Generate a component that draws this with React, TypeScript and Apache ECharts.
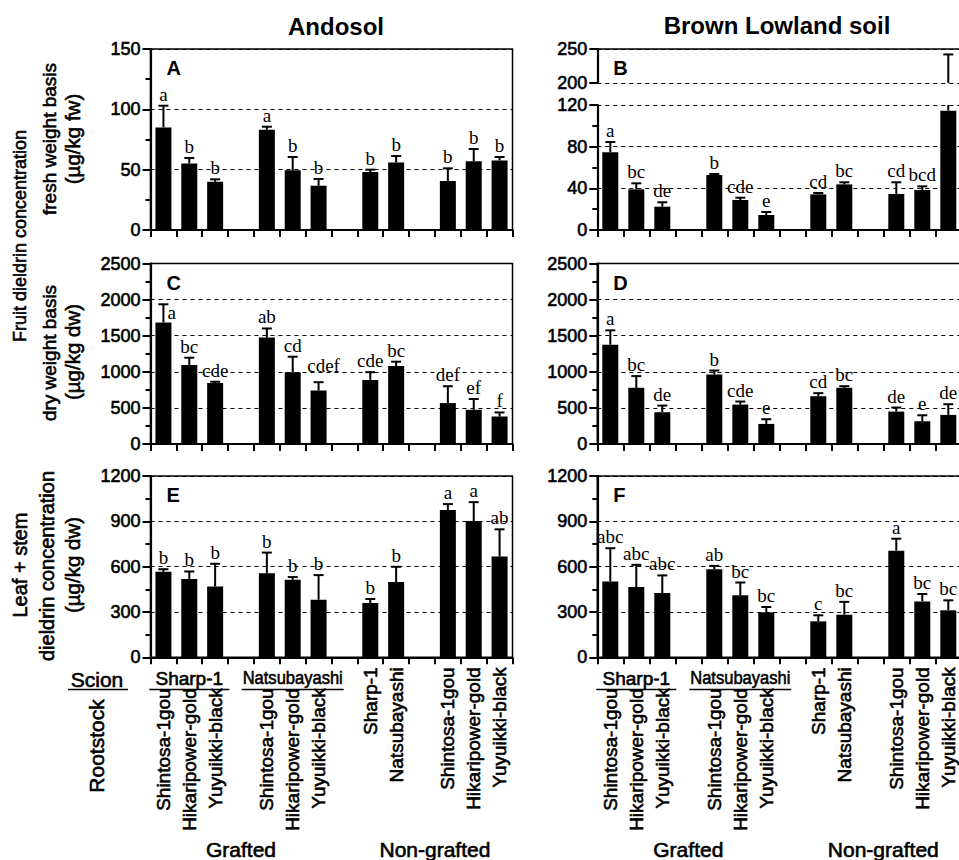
import React, { useEffect, useRef } from 'react';
import * as echarts from 'echarts';

// ---------- data ----------
const rootstocks = [
  'Shintosa-1gou', 'Hikaripower-gold', 'Yuyuikki-black', '',
  'Shintosa-1gou', 'Hikaripower-gold', 'Yuyuikki-black', '',
  'Sharp-1', 'Natsubayashi', '',
  'Shintosa-1gou', 'Hikaripower-gold', 'Yuyuikki-black',
];
const graftedFlags = [true, true, true, false, true, true, true, false, false, false, false, false, false, false];
const scionGroups = ['Sharp-1', 'Natsubayashi'];
const scionGroupStart = [0, 4];

const meanA = [85, 55.2, 40, null, 83, 49.5, 36.7, null, 48, 56, null, 40.6, 57, 57.7];
const topA = [103, 59.7, 42, null, 85.6, 60.5, 42.3, null, 50, 61.3, null, 51.1, 67.1, 60.5];
const letA = ['a', 'b', 'b', '', 'a', 'b', 'b', '', 'b', 'b', '', 'b', 'b', 'b'];

const meanB = [74.6, 39, 22.4, null, 52.8, 28.8, 14.4, null, 34.2, 43.8, null, 34.6, 38.4, 114.6];
const topB = [84.5, 44.8, 26.6, null, 53.8, 31, 17.3, null, 35.5, 45.8, null, 45.8, 41.9, 242];
const letB = ['a', 'bc', 'de', '', 'b', 'cde', 'e', '', 'cd', 'bc', '', 'cd', 'bcd', ''];

const meanC = [1684, 1093, 845, null, 1474, 995, 740, null, 888, 1079, null, 567, 474, 381];
const topC = [1935, 1195, 862, null, 1600, 1209, 856, null, 995, 1140, null, 800, 623, 437];
const letC = ['a', 'bc', 'cde', '', 'ab', 'cd', 'cdef', '', 'cde', 'bc', '', 'def', 'ef', 'f'];

const meanD = [1375, 778, 440, null, 963, 546, 278, null, 662, 778, null, 449, 315, 403];
const topD = [1574, 940, 532, null, 1018, 588, 343, null, 704, 801, null, 505, 398, 551];
const letD = ['a', 'bc', 'de', '', 'b', 'cde', 'e', '', 'cd', 'bc', '', 'de', 'e', 'de'];

const meanE = [566, 518, 469, null, 557, 513, 381, null, 359, 498, null, 975, 902, 667];
const topE = [583, 568, 619, null, 693, 531, 544, null, 386, 599, null, 1014, 1027, 847];
const letE = ['b', 'b', 'b', '', 'b', 'b', 'b', '', 'b', 'b', '', 'a', 'a', 'ab'];

const meanF = [502, 465, 425, null, 583, 410, 298, null, 238, 282, null, 706, 370, 311];
const topF = [722, 612, 542, null, 605, 495, 333, null, 278, 367, null, 785, 419, 377];
const letF = ['abc', 'abc', 'abc', '', 'ab', 'bc', 'bc', '', 'c', 'bc', '', 'a', 'bc', 'bc'];

const yTicksA = [0, 150, 50];
const yTicksBUpper = [200, 250, 50];
const yTicksBLower = [0, 120, 40];
const yTicksCD = [0, 2500, 500];
const yTicksEF = [0, 1200, 300];

// ---------- styling / layout ----------
const SANS = '"Liberation Sans", Arial, Helvetica, sans-serif';
const SERIF = '"Liberation Serif", "Times New Roman", serif';
const HEAVY = { textBorderColor: '#000', textBorderWidth: 0.6 };
const COLX = [150.5, 597.3];
const COLW = [362, 364];
const ROWS = [
  { top: 49, h: 181 },
  { top: 263.5, h: 180.5 },
  { top: 476, h: 181.3 },
];
const B_UPPER = { top: 49, h: 34 };
const B_LOWER = { top: 105, h: 125 };

const NUDGE: Record<string, { dx: number; dy: number; align?: string; va?: string }> = {
  C0: { dx: 4, dy: 1, align: 'left', va: 'top' },
  C6: { dx: 5, dy: -5 },
};

function catX(col: number, i: number) {
  return COLX[col] + (i + 0.5) * (COLW[col] / rootstocks.length);
}

function buildOption() {
  const grid: any[] = [];
  const xAxis: any[] = [];
  const yAxis: any[] = [];
  const series: any[] = [];

  const dashed = { color: '#000', width: 1, type: [4, 4] };

  function addGrid(col: number, top: number, h: number, opt: any) {
    const g = grid.length;
    grid.push({
      left: COLX[col], top, width: COLW[col], height: h,
      show: opt.border, borderColor: '#000', borderWidth: 1.5,
      backgroundColor: 'transparent', containLabel: false, outerBoundsMode: 'none',
    });
    const isTopAxis = !!opt.topAxis;
    xAxis.push({
      gridIndex: g, type: 'category', data: rootstocks, boundaryGap: true,
      position: isTopAxis ? 'top' : 'bottom',
      axisLine: { show: true, lineStyle: { color: '#000', width: isTopAxis ? 1.5 : 2.2 } },
      axisTick: { show: !isTopAxis, interval: 0, length: 7, lineStyle: { color: '#000', width: 2 } },
      axisLabel: opt.labels ? {
        show: true, interval: 0, rotate: 90, margin: 10, color: '#000',
        formatter: (v: string, i: number) => (v ? (graftedFlags[i] ? `{g|${v}}` : `{n|${v}}`) : ''),
        rich: {
          g: { fontSize: 19, fontFamily: SANS, color: '#000', padding: [0, 21, 0, 0], ...HEAVY },
          n: { fontSize: 19, fontFamily: SANS, color: '#000', ...HEAVY },
        },
      } : { show: false },
      splitLine: { show: false },
    });
    const [mn, mx, iv] = opt.ticks;
    yAxis.push({
      gridIndex: g, type: 'value', min: mn, max: mx, interval: iv,
      axisLine: { show: true, lineStyle: { color: '#000', width: 2.2 } },
      axisTick: { show: true, length: 8, lineStyle: { color: '#000', width: 2 } },
      minorTick: { show: opt.minor !== false, splitNumber: 2, length: 5, lineStyle: { color: '#000', width: 2 } },
      minorSplitLine: { show: false },
      axisLabel: {
        color: '#000', fontSize: 18, fontFamily: SANS, margin: 10, ...HEAVY,
        formatter: (v: number) => String(v),
      },
      splitLine: { show: true, lineStyle: dashed },
    });
    return g;
  }

  function addBars(g: number, mean: (number | null)[]) {
    series.push({
      type: 'bar', xAxisIndex: g, yAxisIndex: g, data: mean, barWidth: 16,
      itemStyle: { color: '#000' }, z: 2, silent: true,
    });
  }

  function addErr(g: number, key: string, mean: (number | null)[], top: (number | null)[],
    letters: string[], yMin: number, yMax: number) {
    const data: number[][] = [];
    mean.forEach((m, i) => {
      const t = top[i];
      if (m != null && t != null && t > yMin) data.push([i, m, t]);
    });
    series.push({
      type: 'custom', xAxisIndex: g, yAxisIndex: g, z: 3, silent: true, data,
      encode: { x: 0, y: [1, 2] },
      renderItem: (_p: any, api: any) => {
        const i = api.value(0), m = api.value(1), t = api.value(2);
        const lo = Math.max(m, yMin), hi = Math.min(t, yMax);
        const p0 = api.coord([i, lo]);
        const p1 = api.coord([i, hi]);
        const children: any[] = [
          { type: 'line', shape: { x1: p0[0], y1: p0[1], x2: p1[0], y2: p1[1] }, style: { stroke: '#000', lineWidth: 2 } },
        ];
        if (t <= yMax) {
          children.push({ type: 'line', shape: { x1: p1[0] - 5, y1: p1[1], x2: p1[0] + 5, y2: p1[1] }, style: { stroke: '#000', lineWidth: 2 } });
          const lt = letters[i];
          if (lt) {
            const n = NUDGE[key + i] || { dx: 0, dy: 0 };
            children.push({
              type: 'text', x: p1[0] + n.dx, y: p1[1] - 2 + n.dy,
              style: {
                text: lt, fontSize: 19, fontFamily: SERIF, fill: '#000',
                align: n.align || 'center', verticalAlign: n.va || 'bottom',
              },
            });
          }
        }
        return { type: 'group', children };
      },
    });
  }

  // A
  let g = addGrid(0, ROWS[0].top, ROWS[0].h, { border: true, ticks: yTicksA });
  addBars(g, meanA); addErr(g, 'A', meanA, topA, letA, yTicksA[0], yTicksA[1]);
  // B (broken axis)
  g = addGrid(1, B_UPPER.top, B_UPPER.h, { border: false, topAxis: true, ticks: yTicksBUpper, minor: false });
  addErr(g, 'B', meanB, topB, letB, yTicksBUpper[0], yTicksBUpper[1]);
  g = addGrid(1, B_LOWER.top, B_LOWER.h, { border: false, ticks: yTicksBLower });
  addBars(g, meanB); addErr(g, 'B', meanB, topB, letB, yTicksBLower[0], yTicksBLower[1]);
  // C, D
  g = addGrid(0, ROWS[1].top, ROWS[1].h, { border: true, ticks: yTicksCD });
  addBars(g, meanC); addErr(g, 'C', meanC, topC, letC, yTicksCD[0], yTicksCD[1]);
  g = addGrid(1, ROWS[1].top, ROWS[1].h, { border: true, ticks: yTicksCD });
  addBars(g, meanD); addErr(g, 'D', meanD, topD, letD, yTicksCD[0], yTicksCD[1]);
  // E, F
  g = addGrid(0, ROWS[2].top, ROWS[2].h, { border: true, ticks: yTicksEF, labels: true });
  addBars(g, meanE); addErr(g, 'E', meanE, topE, letE, yTicksEF[0], yTicksEF[1]);
  g = addGrid(1, ROWS[2].top, ROWS[2].h, { border: true, ticks: yTicksEF, labels: true });
  addBars(g, meanF); addErr(g, 'F', meanF, topF, letF, yTicksEF[0], yTicksEF[1]);

  // ---------- graphic texts ----------
  const graphic: any[] = [];
  const txt = (text: string, x: number, y: number, o: any = {}) => {
    graphic.push({
      type: 'text', x, y, rotation: o.rot || 0, scaleX: o.sx || 1, silent: true,
      style: {
        text, fill: '#000', fontSize: o.size || 19, fontFamily: o.family || SANS,
        fontWeight: o.bold ? 'bold' : 'normal', align: o.align || 'center', verticalAlign: o.va || 'middle',
        ...(o.bold ? {} : { stroke: '#000', lineWidth: 0.6 }),
      },
    });
  };
  const hline = (x1: number, x2: number, y: number) => {
    graphic.push({ type: 'line', silent: true, shape: { x1, y1: y, x2, y2: y }, style: { stroke: '#000', lineWidth: 1.5 } });
  };
  const R90 = Math.PI / 2;

  txt('Andosol', 336, 26, { size: 24, bold: true });
  txt('Brown Lowland soil', 777, 25, { size: 24, bold: true });

  const letters = ['A', 'B', 'C', 'D', 'E', 'F'];
  letters.forEach((L, k) => {
    const col = k % 2, row = Math.floor(k / 2);
    txt(L, COLX[col] + 16, ROWS[row].top + 19, { size: 20, bold: true, align: 'left' });
  });

  txt('Fruit dieldrin concentration', 20, 236, { rot: R90, size: 18 });
  txt('fresh weight basis', 49, 139, { rot: R90, size: 19 });
  txt('(µg/kg fw)', 72, 139, { rot: R90, size: 20.5 });
  txt('dry weight basis', 49, 353, { rot: R90, size: 19 });
  txt('(µg/kg dw)', 72, 352, { rot: R90, size: 20.5 });
  txt('Leaf + stem', 20, 565, { rot: R90, size: 20 });
  txt('dieldrin concentration', 47, 566, { rot: R90, size: 20 });
  txt('(µg/kg dw)', 72, 565, { rot: R90, size: 20.5 });

  txt('Scion', 97, 679, { size: 21 });
  hline(68, 128, 689.5);
  txt('Rootstock', 96, 746, { rot: R90, size: 21 });

  const halfUnder = [40, 51];
  for (let col = 0; col < 2; col++) {
    scionGroups.forEach((name, k) => {
      const cx = catX(col, scionGroupStart[k] + 1);
      txt(name, cx, 678, { size: 19, sx: name.length > 8 ? 0.87 : 1 });
      hline(cx - halfUnder[k], cx + halfUnder[k], 689.5);
    });
    txt('Grafted', catX(col, 3), 849, { size: 21 });
    txt('Non-grafted', (catX(col, 8) + catX(col, 13)) / 2, 849, { size: 21 });
  }

  return { animation: false, backgroundColor: '#fff', grid, xAxis, yAxis, series, graphic };
}

export default function App() {
  const ref = useRef<HTMLDivElement>(null);
  useEffect(() => {
    const chart = echarts.init(ref.current!, null, { renderer: 'svg' });
    chart.setOption(buildOption() as any);
    return () => chart.dispose();
  }, []);
  return <div ref={ref} style={{ position: 'absolute', left: 0, top: 0, width: 959, height: 860 }} />;
}
